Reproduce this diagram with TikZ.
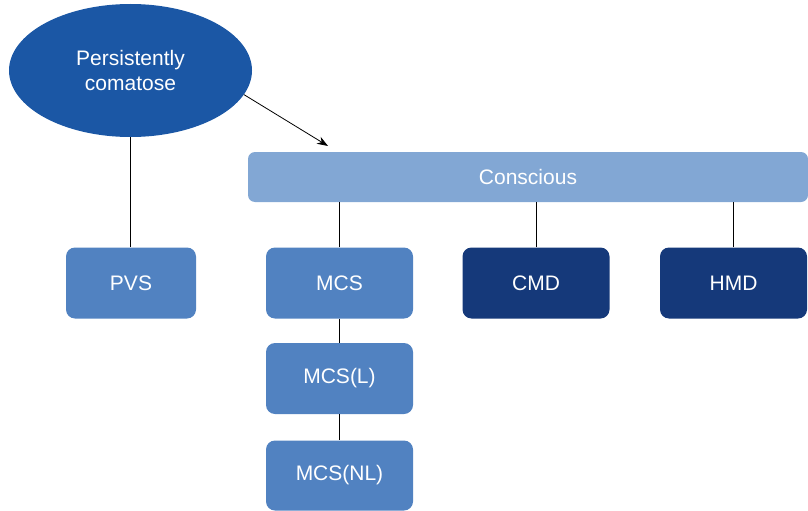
\documentclass[tikz,border=0pt]{standalone}
\usepackage{fontspec}
\setmainfont{Liberation Sans}
\usepackage{tikz}
\usetikzlibrary{arrows.meta}
\usetikzlibrary{shapes.geometric}
\definecolor{comablue}{RGB}{27,87,165}
\definecolor{lightblue}{RGB}{130,167,212}
\definecolor{midblue}{RGB}{81,130,193}
\definecolor{darkblue}{RGB}{21,57,122}
\newcommand{\boxwidth}{147pt}
\newcommand{\boxheight}{71pt}
\tikzset{
    common/.style={rectangle, rounded corners=9pt, text=white, font=\fontsize{21}{25}\selectfont, inner sep=0pt},
    state/.style={common, minimum width=\boxwidth, minimum height=\boxheight},
    mild/.style={state, fill=midblue},
    hidden/.style={state, fill=darkblue},
    bar/.style={common, fill=lightblue, rounded corners=7pt, minimum width=560pt, minimum height=50pt},
    coma/.style={ellipse, fill=comablue, text=white, align=center, inner sep=0pt, minimum width=243pt, minimum height=133pt, font=\fontsize{21}{25}\selectfont},
    link/.style={draw, black, line width=0.8pt}
}
\begin{document}
\begin{tikzpicture}[x=1pt, y=-1pt]
    \useasboundingbox (0,0) rectangle (808,511);

    \node[coma] (coma) at (130.5,70.5) {Persistently\\comatose};
    \node[bar] (conscious) at (528,177) {Conscious};

    \node[mild, minimum width=130pt] (pvs) at (131,283) {PVS};
    \node[mild] (mcs) at (339.5,283) {MCS};
    \node[hidden] (cmd) at (536,283) {CMD};
    \node[hidden] (hmd) at (733.5,283) {HMD};
    \node[mild] (mcsl) at (339.5,378.5) {MCS(L)};
    \node[mild, minimum height=70pt] (mcsnl) at (339.5,475.5) {MCS(NL)};

    \coordinate (target) at (328,146);
    \draw[link, -{Stealth[length=11pt, width=8pt]}] (coma.-12) -- (target);

    \draw[link] (coma.south) -- (coma.south |- pvs.north);
    \draw[link] (mcs.north) -- (mcs.north |- conscious.south);
    \draw[link] (cmd.north) -- (cmd.north |- conscious.south);
    \draw[link] (hmd.north) -- (hmd.north |- conscious.south);
    \draw[link] (mcs.south) -- (mcsl.north);
    \draw[link] (mcsl.south) -- (mcsnl.north);
\end{tikzpicture}
\end{document}
